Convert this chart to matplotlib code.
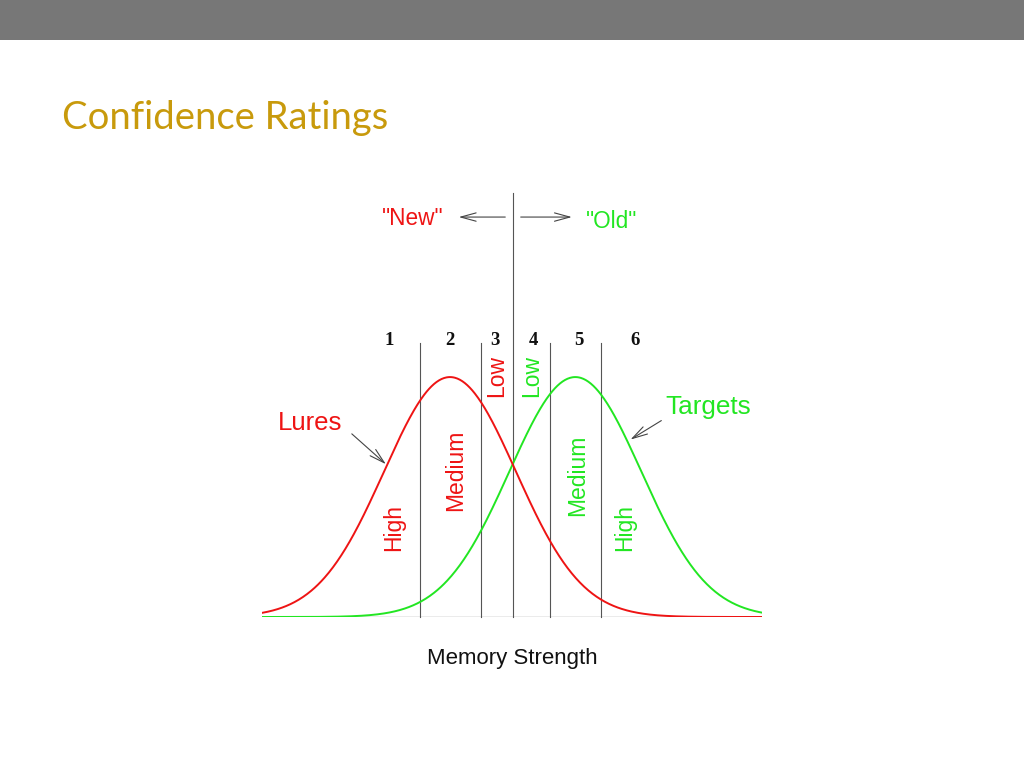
import numpy as np
import matplotlib
matplotlib.use('Agg')
from matplotlib import pyplot as plt

## distributions (memory strength units)
lure_mean = 0.0
target_mean = 1.9
sd = 1.0
x_range = [-2.85, 4.73]

## rating criteria (vertical lines)
criteria = [-0.45, 0.47, 0.95, 1.52, 2.29]
center_crit = 0.95
crit_top = 0.4555
center_top = 0.705

## rating numbers 1..6
rating_nums = ['1', '2', '3', '4', '5', '6']
rating_x = [-0.92, 0.0, 0.68, 1.27, 1.95, 2.80]
rating_y = 0.4605

## confidence words
conf_labels = ['Low', 'Medium', 'High', 'Low', 'Medium', 'High']
conf_x = [0.71, 0.08, -0.85, 1.24, 1.94, 2.65]
conf_y = [0.40, 0.244, 0.148, 0.40, 0.236, 0.148]

red = '#ee1414'
green = '#22e622'
conf_colors = [red, red, red, green, green, green]

fig = plt.figure(figsize=(10.24, 7.68), dpi=100)

## top grey banner
fig.add_artist(plt.Rectangle((0, 1 - 40/768), 1, 40/768, transform=fig.transFigure,
                             color='#777777', lw=0))
fig.text(62/1024, 1 - 118/768, 'Confidence Ratings', color='#c89a0c', fontsize=27.5,
         family='Lato', ha='left', va='center')

ax = fig.add_axes([262/1024, 151/768, 500/1024, 424/768])
ax.set_xlim(x_range)
ax.set_ylim(0, center_top)
ax.axis('off')

x = np.linspace(x_range[0], x_range[1], 600)
lure = np.exp(-0.5 * ((x - lure_mean) / sd) ** 2) / (sd * np.sqrt(2 * np.pi))
target = np.exp(-0.5 * ((x - target_mean) / sd) ** 2) / (sd * np.sqrt(2 * np.pi))

ax.plot(x_range, [0, 0], color='#666666', lw=0.9, zorder=1)
for c in criteria:
    top = center_top if c == center_crit else crit_top
    ax.plot([c, c], [0, top], color='#555555', lw=0.8, zorder=1, clip_on=False)

ax.plot(x, target, color=green, lw=1.4, zorder=2)
ax.plot(x, lure, color=red, lw=1.4, zorder=3)

for lab, xx in zip(rating_nums, rating_x):
    ax.text(xx, rating_y, lab, family='Liberation Serif', fontweight='bold', fontsize=13.5,
            color='#111111', ha='center', va='center')

for lab, xx, yy, col in zip(conf_labels, conf_x, conf_y, conf_colors):
    ax.text(xx, yy, lab, rotation=90, color=col, fontsize=16.5, ha='center', va='center',
            family='Liberation Sans')

## "New" / "Old"
ax.text(-0.56, 0.663, '"New"', color=red, fontsize=16.3, ha='center', va='center', family='Liberation Sans')
ax.text(2.45, 0.658, '"Old"', color=green, fontsize=16.3, ha='center', va='center', family='Liberation Sans')
arrow = dict(arrowstyle='->,head_length=1.1,head_width=0.3', color='#444444', lw=0.8)
ax.annotate('', xy=(0.09, 0.665), xytext=(0.88, 0.665), arrowprops=arrow)
ax.annotate('', xy=(1.89, 0.665), xytext=(1.03, 0.665), arrowprops=arrow)

## Lures / Targets
ax.text(-2.12, 0.3225, 'Lures', color=red, fontsize=18.5, ha='center', va='center', family='Liberation Sans')
ax.text(3.91, 0.349, 'Targets', color=green, fontsize=18.8, ha='center', va='center', family='Liberation Sans')
ax.annotate('', xy=(-0.94, 0.251), xytext=(-1.52, 0.3076), arrowprops=arrow)
ax.annotate('', xy=(2.70, 0.2926), xytext=(3.24, 0.329), arrowprops=arrow)

ax.text(0.94, -0.0685, 'Memory Strength', color='#111111', fontsize=16, ha='center', va='center',
        family='Liberation Sans', clip_on=False)

plt.savefig('out.png', dpi=100)
